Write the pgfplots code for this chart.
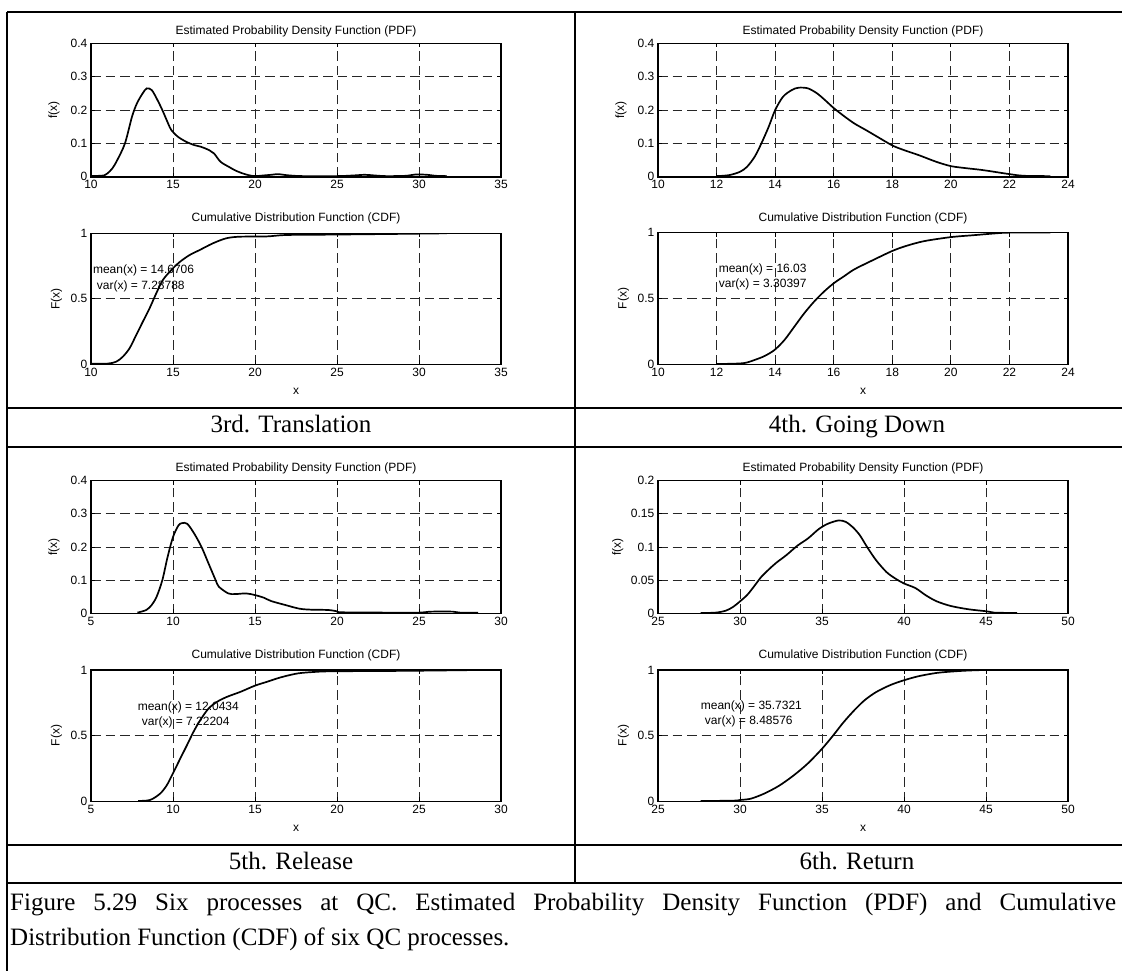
\documentclass[border=0pt]{standalone}
\usepackage{fontspec}
\setmainfont{Liberation Serif}
\newfontfamily\arialfont{Liberation Sans}
\usepackage{pgfplots}
\pgfplotsset{compat=1.18}
\newcommand{\af}{\arialfont\fontsize{12}{14}\selectfont}
\pgfplotsset{
  every axis title shift=0pt,
  curve/.style={black, line width=1.7pt, smooth, tension=0.5, mark=none},
  mlab/.style={
    scale only axis, width=410pt, anchor=north west,
    axis line style={line width=1.5pt, black},
    tick align=inside, major tick length=4pt,
    tick style={black, line width=0.8pt},
    grid=major,
    major grid style={black!85, line width=0.9pt, dash pattern=on 9.5pt off 5pt},
    tick label style={font=\af},
    label style={font=\af},
    xticklabel style={inner sep=3.5pt},
    yticklabel style={inner sep=3.5pt},
    /pgf/number format/assume math mode=true,
    scaled ticks=false,
  },
  pdfax/.style={mlab,
    title={Estimated Probability Density Function (PDF)},
    title style={font=\af, at={(0.5,1)}, anchor=center, yshift=12pt},
    ylabel={f(x)}, ylabel style={at={(axis description cs:-0.09,0.5)}, anchor=center},
    ymin=0},
  cdfax/.style={mlab,
    title={Cumulative Distribution Function (CDF)},
    title style={font=\af, at={(0.5,1)}, anchor=center, yshift=14.5pt},
    ylabel={F(x)}, ylabel style={at={(axis description cs:-0.084,0.5)}, anchor=center},
    xlabel={x}, xlabel style={at={(axis description cs:0.5,-0.207)}, anchor=center},
    ymin=0, ymax=1, ytick={0,0.5,1}, yticklabels={0,0.5,1}},
}
\begin{document}
\begin{tikzpicture}
\path[use as bounding box] (0,0) rectangle (1122pt,-971pt);
\fill[white] (0,0) rectangle (1122pt,-971pt);

% ---------- table rules ----------
\begin{scope}[line width=2pt, black]
\draw (7pt,-12pt) -- (1122pt,-12pt);
\draw (7pt,-12pt) -- (7pt,-971pt);
\draw (575pt,-12pt) -- (575pt,-883pt);
\draw (7pt,-408pt) -- (1122pt,-408pt);
\draw (7pt,-447pt) -- (1122pt,-447pt);
\draw (7pt,-845pt) -- (1122pt,-845pt);
\draw (7pt,-883pt) -- (1122pt,-883pt);
\end{scope}

% ---------- 3rd. Translation ----------
\begin{axis}[pdfax, at={(91pt,-43.3pt)}, height=133.5pt,
  xmin=10, xmax=35, xtick={10,15,20,25,30,35},
  ymax=0.4, ytick={0,0.1,0.2,0.3,0.4}, yticklabels={0,0.1,0.2,0.3,0.4}]
\addplot[curve] coordinates {(10,0.002)(10.8,0.004)(11.0,0.01)(11.3,0.025)(11.6,0.05)(12.07,0.10)(12.5,0.18)(12.8,0.22)(13.15,0.25)(13.4,0.265)(13.7,0.26)(14.0,0.235)(14.35,0.2)(14.7,0.16)(14.9,0.14)(15.3,0.12)(15.8,0.105)(16.3,0.095)(16.7,0.09)(17.2,0.08)(17.5,0.07)(17.9,0.045)(18.4,0.03)(18.8,0.019)(19.2,0.011)(19.6,0.005)(20,0.002)(20.5,0.004)(21.0,0.006)(21.4,0.008)(21.9,0.005)(22.4,0.003)(23,0.002)(25,0.002)(26,0.004)(26.7,0.006)(27.3,0.004)(28,0.002)(29.2,0.003)(29.8,0.007)(30.5,0.006)(31.0,0.003)(31.7,0.002)};
\end{axis}
\begin{axis}[cdfax, at={(91pt,-233.3pt)}, height=131pt,
  xmin=10, xmax=35, xtick={10,15,20,25,30,35}]
\addplot[curve] coordinates {(10,0.004)(11.0,0.005)(11.54,0.02)(11.94,0.058)(12.35,0.122)(12.76,0.224)(13.16,0.325)(13.57,0.427)(13.98,0.542)(14.38,0.643)(14.9,0.72)(15.4,0.78)(16.01,0.834)(16.62,0.872)(17.44,0.924)(18.25,0.962)(19.07,0.974)(20.7,0.976)(21.9,0.987)(24.56,0.99)(28.4,0.995)(31.7,1.0)};
\node[anchor=west, font=\af, inner sep=0pt] at (axis cs:10.11,0.72) {mean(x) = 14.6706};
\node[anchor=west, font=\af, inner sep=0pt] at (axis cs:10.35,0.598) {var(x) = 7.28788};
\end{axis}

% ---------- 4th. Going Down ----------
\begin{axis}[pdfax, at={(658pt,-43.3pt)}, height=133.5pt,
  xmin=10, xmax=24, xtick={10,12,14,16,18,20,22,24},
  ymax=0.4, ytick={0,0.1,0.2,0.3,0.4}, yticklabels={0,0.1,0.2,0.3,0.4}]
\addplot[curve] coordinates {(12.0,0.002)(12.43,0.005)(12.8,0.015)(13.04,0.03)(13.3,0.06)(13.53,0.1)(13.78,0.15)(14.0,0.2)(14.27,0.24)(14.57,0.26)(14.8,0.267)(15.12,0.265)(15.43,0.25)(15.7,0.23)(16.0,0.206)(16.35,0.182)(16.7,0.16)(17.1,0.14)(17.45,0.122)(18.0,0.094)(18.4,0.08)(18.9,0.065)(19.5,0.045)(20,0.032)(20.5,0.026)(21.1,0.02)(22,0.008)(22.5,0.003)(23.4,0.002)};
\end{axis}
\begin{axis}[cdfax, at={(658pt,-232.5pt)}, height=131.8pt,
  xmin=10, xmax=24, xtick={10,12,14,16,18,20,22,24}]
\addplot[curve] coordinates {(12,0.003)(12.5,0.004)(12.96,0.01)(13.3,0.033)(13.64,0.063)(13.98,0.109)(14.32,0.185)(14.66,0.287)(15.0,0.389)(15.34,0.478)(15.68,0.554)(16.02,0.618)(16.36,0.669)(16.7,0.72)(17.27,0.783)(18.0,0.86)(18.5,0.9)(19.1,0.935)(20.0,0.965)(20.8,0.98)(21.5,0.993)(22.0,0.999)(23.4,1.0)};
\node[anchor=west, font=\af, inner sep=0pt] at (axis cs:12.07,0.72) {mean(x) = 16.03};
\node[anchor=west, font=\af, inner sep=0pt] at (axis cs:12.07,0.605) {var(x) = 3.30397};
\end{axis}

% ---------- 5th. Release ----------
\begin{axis}[pdfax, at={(91pt,-480.7pt)}, height=132.6pt,
  xmin=5, xmax=30, xtick={5,10,15,20,25,30},
  ymax=0.4, ytick={0,0.1,0.2,0.3,0.4}, yticklabels={0,0.1,0.2,0.3,0.4}]
\addplot[curve] coordinates {(7.83,0.002)(8.37,0.01)(8.7,0.025)(9.0,0.05)(9.35,0.1)(9.67,0.17)(10.0,0.23)(10.33,0.265)(10.55,0.272)(10.87,0.27)(11.3,0.24)(11.74,0.2)(12.17,0.15)(12.6,0.1)(12.8,0.08)(13.37,0.06)(13.8,0.058)(14.46,0.06)(15.0,0.055)(15.54,0.047)(15.98,0.037)(16.85,0.025)(17.7,0.014)(18.4,0.011)(19.46,0.01)(20.0,0.006)(20.33,0.003)(23.4,0.002)(25,0.002)(25.76,0.005)(27.07,0.005)(27.5,0.002)(28.6,0.002)};
\end{axis}
\begin{axis}[cdfax, at={(91pt,-670pt)}, height=131.3pt,
  xmin=5, xmax=30, xtick={5,10,15,20,25,30}]
\addplot[curve] coordinates {(7.88,0.003)(8.6,0.01)(9.21,0.058)(9.62,0.122)(9.99,0.211)(10.44,0.325)(10.85,0.427)(11.25,0.529)(11.66,0.618)(12.17,0.707)(12.69,0.758)(13.3,0.796)(14.12,0.834)(14.98,0.88)(15.75,0.911)(16.57,0.944)(17.6,0.974)(18.6,0.985)(19.6,0.99)(23.4,0.993)(26,0.996)(28.6,1.0)};
\node[anchor=west, font=\af, inner sep=0pt] at (axis cs:7.84,0.714) {mean(x) = 12.0434};
\node[anchor=west, font=\af, inner sep=0pt] at (axis cs:8.09,0.598) {var(x) = 7.22204};
\end{axis}

% ---------- 6th. Return ----------
\begin{axis}[pdfax, at={(658pt,-480.7pt)}, height=132.6pt,
  ylabel style={at={(axis description cs:-0.098,0.5)}},
  xmin=25, xmax=50, xtick={25,30,35,40,45,50},
  ymax=0.2, ytick={0,0.05,0.1,0.15,0.2}, yticklabels={0,0.05,0.1,0.15,0.2}]
\addplot[curve] coordinates {(27.6,0.0005)(28.5,0.001)(29.14,0.004)(29.6,0.01)(30,0.018)(30.45,0.028)(30.9,0.042)(31.3,0.055)(31.75,0.066)(32.2,0.076)(32.84,0.088)(33.5,0.102)(34.15,0.113)(34.8,0.127)(35.35,0.135)(36.0,0.14)(36.44,0.138)(36.87,0.13)(37.3,0.118)(37.75,0.1)(38.3,0.08)(38.94,0.062)(39.5,0.052)(40.0,0.045)(40.7,0.038)(41.34,0.027)(42.0,0.018)(42.86,0.011)(43.95,0.006)(45.04,0.003)(45.5,0.001)(46.9,0.0005)};
\end{axis}
\begin{axis}[cdfax, at={(658pt,-670pt)}, height=131.3pt,
  xmin=25, xmax=50, xtick={25,30,35,40,45,50}]
\addplot[curve] coordinates {(27.6,0.002)(29.6,0.005)(30,0.01)(30.66,0.02)(31.5,0.06)(32.4,0.12)(33.3,0.2)(34.15,0.29)(35.0,0.4)(35.67,0.5)(36.3,0.6)(36.98,0.695)(37.6,0.77)(38.3,0.832)(39.16,0.885)(40,0.922)(40.9,0.953)(42,0.978)(43.1,0.99)(43.95,0.996)(45,1.0)(46.9,1.0)};
\node[anchor=west, font=\af, inner sep=0pt] at (axis cs:27.6,0.72) {mean(x) = 35.7321};
\node[anchor=west, font=\af, inner sep=0pt] at (axis cs:27.85,0.61) {var(x) = 8.48576};
\end{axis}

% ---------- captions ----------
\begin{scope}[every node/.style={font=\fontsize{25}{30}\selectfont, anchor=base, inner sep=0pt}]
\node at (291pt,-432pt) {3rd. Translation};
\node at (857pt,-432pt) {4th. Going Down};
\node at (291pt,-869pt) {5th. Release};
\node at (857pt,-869pt) {6th. Return};
\node[anchor=base west] at (10pt,-910pt) {\makebox[1106pt][s]{Figure 5.29 Six processes at QC. Estimated Probability Density Function (PDF) and Cumulative}};
\node[anchor=base west] at (10pt,-945pt) {Distribution Function (CDF) of six QC processes.};
\end{scope}
\end{tikzpicture}
\end{document}
